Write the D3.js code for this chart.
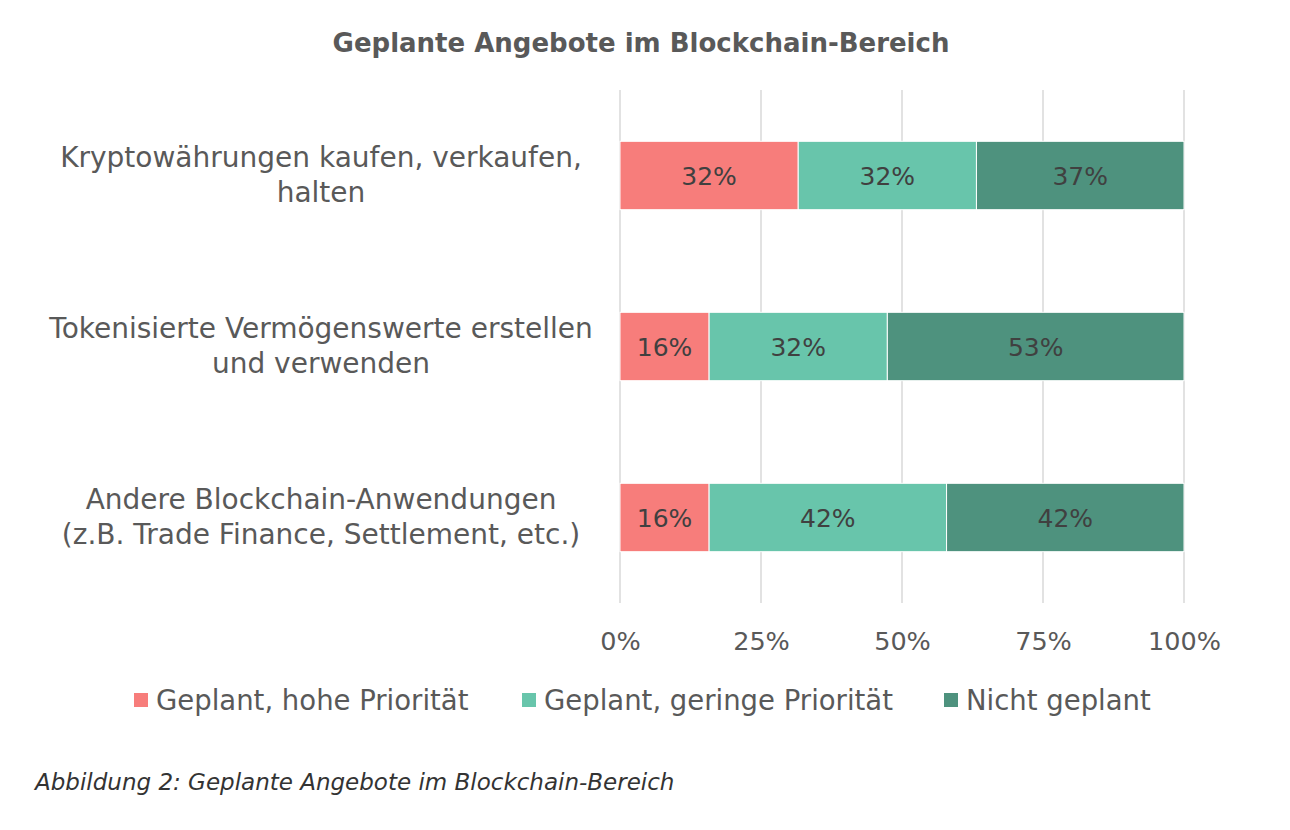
<!DOCTYPE html>
<html>
<head>
<meta charset="utf-8">
<script src="https://cdn.jsdelivr.net/npm/d3@7"></script>
<style>
  body { margin: 0; background: #fff; }
  svg { font-family: "DejaVu Sans", sans-serif; }
</style>
</head>
<body>
<svg></svg>
<script>
const categories = [
  ['Kryptowährungen kaufen, verkaufen,', 'halten'],
  ['Tokenisierte Vermögenswerte erstellen', 'und verwenden'],
  ['Andere Blockchain-Anwendungen', '(z.B. Trade Finance, Settlement, etc.)']
]
const seriesNames = ['Geplant, hohe Priorität', 'Geplant, geringe Priorität', 'Nicht geplant']
const hohe = [31.6, 15.8, 15.8]
const geringe = [31.6, 31.6, 42.1]
const nicht = [36.8, 52.6, 42.1]
const ticks = [0, 25, 50, 75, 100]
const colors = ['#f77d7b', '#68c5ab', '#4e927e']

const w = 1290
const h = 830
const plotLeft = 620
const plotRight = 1184
const plotTop = 90
const plotBottom = 603

let svg = d3.select('svg').attr('width', w).attr('height', h)

let xScale = d3.scaleLinear().domain([0, 100]).range([plotLeft, plotRight])
let yScale = d3.scaleBand().domain(d3.range(categories.length)).range([plotTop, plotBottom]).paddingInner(0.6).paddingOuter(0.3)

// title
svg.append('text')
  .attr('x', 641).attr('y', 52)
  .attr('text-anchor', 'middle')
  .attr('font-size', 26).attr('font-weight', 'bold')
  .attr('fill', '#595959')
  .text('Geplante Angebote im Blockchain-Bereich')

// gridlines
svg.append('g').selectAll('line')
  .data(ticks).enter().append('line')
  .attr('x1', d => xScale(d)).attr('x2', d => xScale(d))
  .attr('y1', plotTop).attr('y2', plotBottom)
  .attr('stroke', '#d9d9d9').attr('stroke-width', 1.5)

// stacked data
let rows = categories.map((c, i) => ({ i: i, hohe: hohe[i], geringe: geringe[i], nicht: nicht[i] }))
let stack = d3.stack().keys(['hohe', 'geringe', 'nicht'])(rows)

let layers = svg.append('g').selectAll('g')
  .data(stack).enter().append('g')
  .attr('fill', (d, i) => colors[i])

layers.selectAll('rect')
  .data(d => d).enter().append('rect')
  .attr('x', d => xScale(d[0]))
  .attr('width', d => xScale(d[1]) - xScale(d[0]))
  .attr('y', d => yScale(d.data.i))
  .attr('height', yScale.bandwidth())
  .attr('stroke', '#fff').attr('stroke-width', 1)

layers.selectAll('text')
  .data(d => d).enter().append('text')
  .attr('x', d => (xScale(d[0]) + xScale(d[1])) / 2)
  .attr('y', d => yScale(d.data.i) + yScale.bandwidth() / 2)
  .attr('dy', '0.36em')
  .attr('text-anchor', 'middle')
  .attr('font-size', 25)
  .attr('fill', '#404040')
  .text(d => Math.round(d[1] - d[0]) + '%')

// x axis labels
let xAxis = d3.axisBottom(xScale).tickValues(ticks).tickFormat(d => d + '%').tickSize(0).tickPadding(0)
let xg = svg.append('g')
  .attr('transform', 'translate(0, ' + (plotBottom + 47) + ')')
  .call(xAxis)
xg.select('.domain').remove()
xg.selectAll('text')
  .attr('font-size', 25.5).attr('fill', '#595959')
  .attr('font-family', '"DejaVu Sans", sans-serif')
  .attr('dy', 0)

// category labels
let cat = svg.append('g').selectAll('text')
  .data(categories).enter().append('text')
  .attr('text-anchor', 'middle')
  .attr('font-size', 28)
  .attr('fill', '#595959')
  .attr('transform', (d, i) => 'translate(321, ' + (yScale(i) + yScale.bandwidth() / 2) + ')')

cat.selectAll('tspan')
  .data(d => d).enter().append('tspan')
  .attr('x', 0)
  .attr('y', (d, i) => (i - 0.5) * 35 - 1)
  .attr('dy', '0.36em')
  .text(d => d)

// legend
const legendX = [134, 522, 944]
let legend = svg.append('g').selectAll('g')
  .data(seriesNames).enter().append('g')
  .attr('transform', (d, i) => 'translate(' + legendX[i] + ', 700)')

legend.append('rect')
  .attr('x', 0).attr('y', -7).attr('width', 14).attr('height', 14)
  .attr('fill', (d, i) => colors[i])

legend.append('text')
  .attr('x', 22).attr('dy', '0.36em')
  .attr('font-size', 27.5).attr('fill', '#595959')
  .text(d => d)

// caption
svg.append('text')
  .attr('x', 35).attr('y', 790)
  .attr('font-size', 23).attr('font-style', 'italic')
  .attr('fill', '#333')
  .text('Abbildung 2: Geplante Angebote im Blockchain-Bereich')
</script>
</body>
</html>
